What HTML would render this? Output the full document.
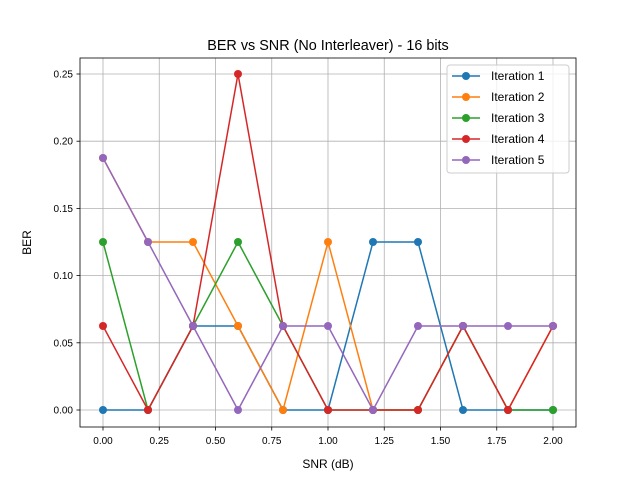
<!DOCTYPE html>
<html><head><meta charset="utf-8"><style>body{margin:0;background:#fff}svg{font-family:"Liberation Sans","DejaVu Sans",sans-serif}</style></head>
<body>
<svg id="chart" width="640" height="480"></svg>
<script>
const snr=[0,0.2,0.4,0.6,0.8,1.0,1.2,1.4,1.6,1.8,2.0];
const iter1=[0,0,0.0625,0.0625,0,0,0.125,0.125,0,0,0];
const iter2=[0.1875,0.125,0.125,0.0625,0,0.125,0,0,0.0625,0,0.0625];
const iter3=[0.125,0,0.0625,0.125,0.0625,0,0,0,0.0625,0,0];
const iter4=[0.0625,0,0.0625,0.25,0.0625,0,0,0,0.0625,0,0.0625];
const iter5=[0.1875,0.125,0.0625,0,0.0625,0.0625,0,0.0625,0.0625,0.0625,0.0625];
const xTicks=[0,0.25,0.5,0.75,1.0,1.25,1.5,1.75,2.0];
const xLabels=["0.00","0.25","0.50","0.75","1.00","1.25","1.50","1.75","2.00"];
const yTicks=[0,0.05,0.1,0.15,0.2,0.25];
const yLabels=["0.00","0.05","0.10","0.15","0.20","0.25"];
const seriesNames=["Iteration 1","Iteration 2","Iteration 3","Iteration 4","Iteration 5"];
const colors=["#1f77b4","#ff7f0e","#2ca02c","#d62728","#9467bd"];
const series=[iter1,iter2,iter3,iter4,iter5];
const L=80,R=576,T=58,B=427;
const X=v=>103+v*(553-103)/2;
const Y=v=>410-v*(410-74)/0.25;
const svg=document.getElementById('chart');
const NS='http://www.w3.org/2000/svg';
function mk(tag,attrs,parent){const e=document.createElementNS(NS,tag);for(const k in attrs)e.setAttribute(k,attrs[k]);(parent||svg).appendChild(e);return e;}
const grid=mk('g',{});


xTicks.forEach((t,i)=>{
 const l=mk('line',{x1:X(t),x2:X(t),y1:T,y2:B,stroke:'#b0b0b0','stroke-width':0.8},grid);
 
 
 const k=mk('line',{x1:X(t),x2:X(t),y1:B,y2:B+3.5,stroke:'#000','stroke-width':0.8});
 
 
 const tx=mk('text',{x:X(t),y:B+17,'text-anchor':'middle','font-size':10});
 tx.textContent=xLabels[i];
 
 
});
yTicks.forEach((t,i)=>{
 const l=mk('line',{x1:L,x2:R,y1:Y(t),y2:Y(t),stroke:'#b0b0b0','stroke-width':0.8},grid);
 
 
 const k=mk('line',{x1:L-3.5,x2:L,y1:Y(t),y2:Y(t),stroke:'#000','stroke-width':0.8});
 
 
 const tx=mk('text',{x:L-7,y:Y(t)+3.5,'text-anchor':'end','font-size':10});
 tx.textContent=yLabels[i];
 
 
});
series.forEach((s,si)=>{
 const g=mk('g',{});
 
 
 const p=mk('polyline',{points:s.map((v,i)=>X(snr[i])+','+Y(v)).join(' '),fill:'none',stroke:colors[si],'stroke-width':1.5},g);
 
 
 s.forEach((v,i)=>{const c=mk('circle',{cx:X(snr[i]),cy:Y(v),r:4,fill:colors[si]},g);
  
  });
});
const frame=mk('rect',{x:L,y:T,width:R-L,height:B-T,fill:'none',stroke:'#000','stroke-width':0.8});


const title=mk('text',{x:(L+R)/2,y:50,'text-anchor':'middle','font-size':14.4});
title.textContent='BER vs SNR (No Interleaver) - 16 bits';


const xt=mk('text',{x:(L+R)/2,y:468,'text-anchor':'middle','font-size':12});
xt.textContent='SNR (dB)';


const yt=mk('text',{x:31,y:(T+B)/2,'text-anchor':'middle','font-size':12,transform:'rotate(-90 31 '+((T+B)/2)+')'});
yt.textContent='BER';


const lg=mk('g',{});


mk('rect',{x:447,y:65,width:122,height:108,rx:3,fill:'#fff','fill-opacity':0.8,stroke:'#ccc'},lg);
seriesNames.forEach((n,i)=>{
 const y=76+i*21;
 const e=mk('g',{},lg);
 
 
 mk('line',{x1:452,x2:480,y1:y,y2:y,stroke:colors[i],'stroke-width':1.5},e);
 mk('circle',{cx:466,cy:y,r:4,fill:colors[i]},e);
 const t=mk('text',{x:491,y:y+4,'font-size':12},e);t.textContent=n;
});
</script>
</body></html>
